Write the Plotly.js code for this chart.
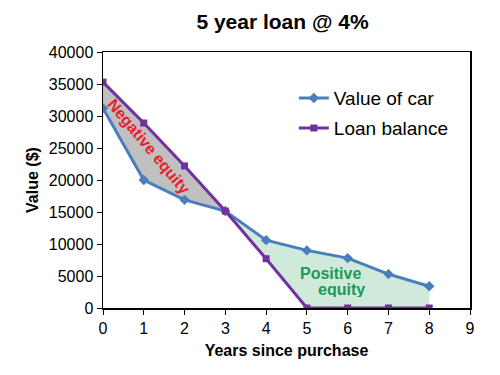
<!DOCTYPE html>
<html>
<head>
<meta charset="utf-8">
<script src="https://cdn.plot.ly/plotly-3.0.1.min.js"></script>
<style>html,body{margin:0;padding:0;background:#fff;}#chart{width:500px;height:375px;}</style>
</head>
<body>
<div id="chart"></div>
<script>
var years = [0, 1, 2, 3, 4, 5, 6, 7, 8];
var carValue = [31200, 20000, 16900, 15150, 10600, 9000, 7800, 5300, 3400];
var loanBalance = [35300, 28900, 22200, 15150, 7700, 0, 0, 0, 0];
var xTicks = [0, 1, 2, 3, 4, 5, 6, 7, 8, 9];
var yTicks = [0, 5000, 10000, 15000, 20000, 25000, 30000, 35000, 40000];

var cross = 3; // index where lines meet
// Negative equity polygon: loan 0..3 then car 3..0
var negX = years.slice(0, cross + 1).concat(years.slice(0, cross + 1).reverse());
var negY = loanBalance.slice(0, cross + 1).concat(carValue.slice(0, cross + 1).reverse());
// Positive equity polygon: car 3..8 then loan 8..3
var posX = years.slice(cross).concat(years.slice(cross).reverse());
var posY = carValue.slice(cross).concat(loanBalance.slice(cross).reverse());

var traces = [
  {x: negX, y: negY, mode: 'lines', fill: 'toself', fillcolor: '#c0c0c0',
   line: {width: 0, color: 'rgba(0,0,0,0)'}, showlegend: false, hoverinfo: 'skip'},
  {x: posX, y: posY, mode: 'lines', fill: 'toself', fillcolor: '#cfeada',
   line: {width: 0, color: 'rgba(0,0,0,0)'}, showlegend: false, hoverinfo: 'skip'},
  {x: years, y: carValue, name: 'Value of car', mode: 'lines+markers', legend: 'legend',
   line: {color: '#4a7ebb', width: 3}, marker: {symbol: 'diamond', size: 8, color: '#4a7ebb'}},
  {x: years, y: loanBalance, name: 'Loan balance', mode: 'lines+markers', legend: 'legend2',
   line: {color: '#7030a0', width: 3}, marker: {symbol: 'square', size: 7, color: '#7030a0'}}
];

var legendBase = {xanchor: 'left', yanchor: 'middle', bgcolor: 'rgba(0,0,0,0)', font: {size: 19}};

var layout = {
  width: 500, height: 375,
  margin: {l: 103, r: 30, t: 52, b: 67},
  paper_bgcolor: '#ffffff', plot_bgcolor: '#ffffff',
  font: {family: 'Liberation Sans, Arial, sans-serif', color: '#000', size: 16},
  title: {text: '<b>5 year loan @ 4%</b>', x: 0.565, xanchor: 'center', y: 0.941, yanchor: 'middle',
          font: {size: 21, color: '#000'}},
  xaxis: {range: [0, 9], tickvals: xTicks, ticktext: xTicks.map(String), showgrid: false, zeroline: false,
          showline: true, linecolor: '#000', linewidth: 1.5, mirror: true,
          ticks: 'outside', ticklen: 5, tickcolor: '#000', tickfont: {size: 16},
          title: {text: '<b>Years since purchase</b>', font: {size: 16}, standoff: 9}},
  yaxis: {range: [0, 40000], tickvals: yTicks, ticktext: yTicks.map(String), showgrid: false, zeroline: false,
          showline: true, linecolor: '#000', linewidth: 1.5, mirror: true,
          ticks: 'outside', ticklen: 5, tickcolor: '#000', tickfont: {size: 16},
          title: {text: '<b>Value ($)</b>', font: {size: 16}, standoff: 6}},
  legend: Object.assign({x: 0.52, y: 0.82}, legendBase),
  legend2: Object.assign({x: 0.52, y: 0.703}, legendBase),
  annotations: [
    {x: 1.13, y: 25300, xref: 'x', yref: 'y', text: '<b>Negative equity</b>', showarrow: false,
     textangle: 50, font: {size: 16, color: '#e8202a'}},
    {x: 5.59, y: 5350, xref: 'x', yref: 'y', text: '<b>Positive</b>', showarrow: false,
     height: 15, borderpad: 0, font: {size: 16, color: '#1a9a55'}},
    {x: 5.84, y: 2900, xref: 'x', yref: 'y', text: '<b>equity</b>', showarrow: false,
     height: 15, borderpad: 0, font: {size: 16, color: '#1a9a55'}}
  ]
};

Plotly.newPlot('chart', traces, layout, {displayModeBar: false, staticPlot: true});
</script>
</body>
</html>
